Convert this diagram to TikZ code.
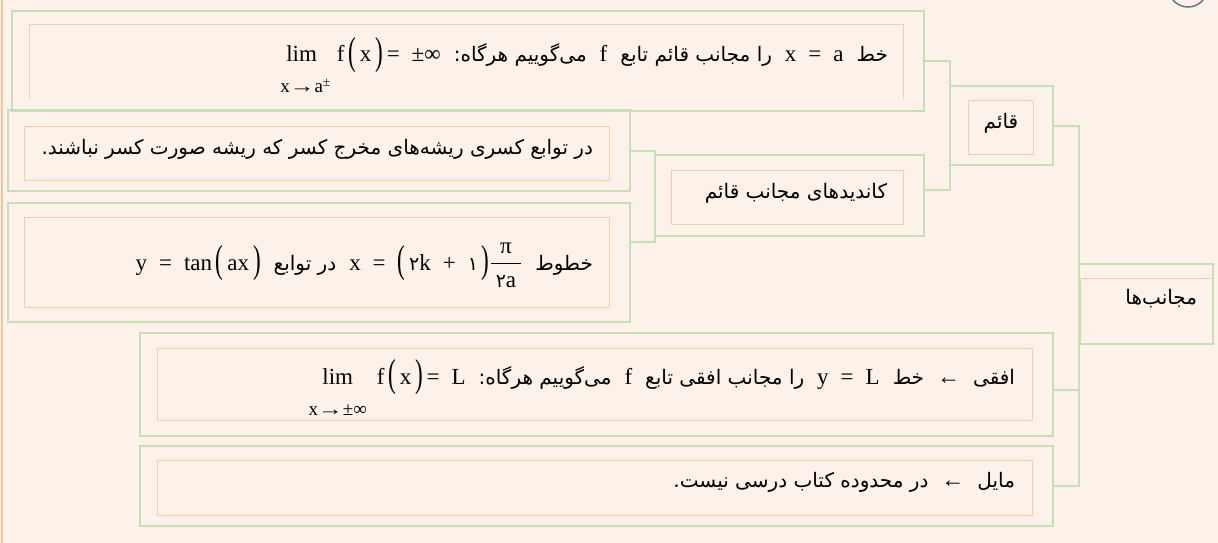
\documentclass[tikz,border=0pt]{standalone}
\usepackage{amsmath}
\usepackage{fontspec}
\usepackage{graphicx}
\TeXXeTstate=1
\newfontfamily\fa[Script=Arabic]{DejaVu Sans}
\newfontfamily\tm{Liberation Serif}
\newcommand\pstxt{\fa\fontsize{20}{24}\selectfont}
\newcommand\mth{\tm\fontsize{23}{27}\selectfont}
\newcommand\subf{\tm\fontsize{19}{22}\selectfont}
\newcommand\dig[1]{{\fa\fontsize{19}{22}\selectfont #1}}
\newcommand\ms{\hspace{12pt}}
\newcommand\gap{\hspace{13pt}}
\newcommand\bp[1]{\raisebox{-2pt}{\scalebox{1}[1.7]{#1}}}
\newcommand\arr{\scalebox{1.3}[1]{→}}
\newcommand\limblk[1]{\vtop{\baselineskip=31pt\halign{\hfil##\hfil\cr lim\cr{\subf #1}\cr}}}
\definecolor{bgc}{RGB}{252,242,233}
\definecolor{gline}{RGB}{197,224,180}
\definecolor{oline}{RGB}{248,203,173}
\definecolor{leftc}{RGB}{244,196,160}
\definecolor{circc}{RGB}{94,120,136}
\tikzset{
  gbox/.style={draw=gline,line width=2pt,inner sep=0pt,outer sep=0pt,anchor=north west},
  obox/.style={draw=oline,line width=1pt},
  conn/.style={draw=gline,line width=2pt},
  txt/.style={inner sep=0pt,outer sep=0pt,text=black},
}
\begin{document}
\begin{tikzpicture}[x=1pt,y=-1pt]
\useasboundingbox (0,0) rectangle (1218,543);
\fill[bgc] (0,0) rectangle (1218,543);
\draw[leftc,line width=2pt] (2,0) -- (2,543);
\draw[circc,line width=1.5pt] (1188,-12.6) circle[radius=19.6];
% orange inner frames
\draw[obox] (29,99) -- (29,25) -- (903,25) -- (903,99);
\draw[obox] (24,126) rectangle (609,180);
\draw[obox] (24,217) rectangle (609,307);
\draw[obox] (671,170) rectangle (903,224);
\draw[obox] (968,100) rectangle (1033,154);
\draw[obox] (1080,278) rectangle (1212,343);
\draw[obox] (157,348) rectangle (1032,420);
\draw[obox] (157,460) rectangle (1032,515);
% green boxes
\node[gbox,minimum width=912pt,minimum height=100pt] (b1) at (12,11) {};
\node[gbox,minimum width=622pt,minimum height=81pt] (b2) at (8,110) {};
\node[gbox,minimum width=622pt,minimum height=119pt] (b3) at (8,203) {};
\node[gbox,minimum width=269pt,minimum height=81pt] (cand) at (655,155) {};
\node[gbox,minimum width=103pt,minimum height=79pt] (qaem) at (950,86) {};
\node[gbox,minimum width=134pt,minimum height=80pt] (root) at (1079,264) {};
\node[gbox,minimum width=913pt,minimum height=103pt] (ofoqi) at (140,333) {};
\node[gbox,minimum width=913pt,minimum height=80pt] (mayel) at (140,446) {};
% connectors
\draw[conn] (b1.east) -- (b1.east -| qaem.west) -- ([yshift=5.5pt]cand.east -| qaem.west) -- ([yshift=5.5pt]cand.east);
\draw[conn] (b2.east) -- (b2.east -| cand.west) -- ([yshift=20.5pt]b3.east -| cand.west) -- ([yshift=20.5pt]b3.east);
\draw[conn] (qaem.east) -- (qaem.east -| root.west) -- (mayel.east -| root.west) -- (mayel.east);
\draw[conn] ([yshift=-5.5pt]ofoqi.east) -- ([yshift=-5.5pt]ofoqi.east -| root.west);
% texts
\node[txt,anchor=base east] (t1) at (888,62) {\pstxt\beginR خط\gap\beginL{\mth x\ms=\ms a}\endL\gap را مجانب قائم تابع\gap\beginL{\mth f}\endL\gap می‌گوییم هرگاه:\gap\beginL{\mth\limblk{x\arr a\rlap{\textsuperscript{±}}}\hspace{14pt}f\,\bp{(}\,x\,\bp{)}\,=\ms±∞}\endL\endR};
\node[txt,anchor=base east] (t2) at (593,154) {\pstxt\beginR در توابع کسری ریشه‌های مخرج کسر که ریشه صورت کسر نباشند.\endR};
\node[txt,anchor=base east] (t3) at (593,270) {\pstxt\beginR خطوط\gap\beginL{\mth x\ms=\ms\bp{(}\,\dig{۲}k\ms+\ms\dig{۱}\,\bp{)}$\dfrac{\hbox{\mth\hspace{9pt}π\hspace{9pt}}}{\hbox{\mth\hspace{5pt}\dig{۲}a\hspace{5pt}}}$}\endL\gap در توابع\gap\beginL{\mth y\ms=\ms tan\,\bp{(}\,ax\,\bp{)}}\endL\endR};
\node[txt,anchor=base east] (t4) at (887,198) {\pstxt\beginR کاندیدهای مجانب قائم\endR};
\node[txt,anchor=base] (t5) at (1001,128) {\pstxt\beginR قائم\endR};
\node[txt,anchor=base east] (t6) at (1197,304) {\pstxt\beginR مجانب‌ها\endR};
\node[txt,anchor=base east] (t7) at (1015,384) {\pstxt\beginR افقی\gap\beginL{\mth ←}\endL\gap خط\gap\beginL{\mth y\ms=\ms L}\endL\gap را مجانب افقی تابع\gap\beginL{\mth f}\endL\gap می‌گوییم هرگاه:\gap\beginL{\mth\limblk{x\arr±∞}\hspace{10pt}f\,\bp{(}\,x\,\bp{)}\,=\ms L}\endL\endR};
\node[txt,anchor=base east] (t8) at (1015,487) {\pstxt\beginR مایل\gap\beginL{\mth ←}\endL\gap در محدوده کتاب درسی نیست.\endR};
\end{tikzpicture}
\end{document}
